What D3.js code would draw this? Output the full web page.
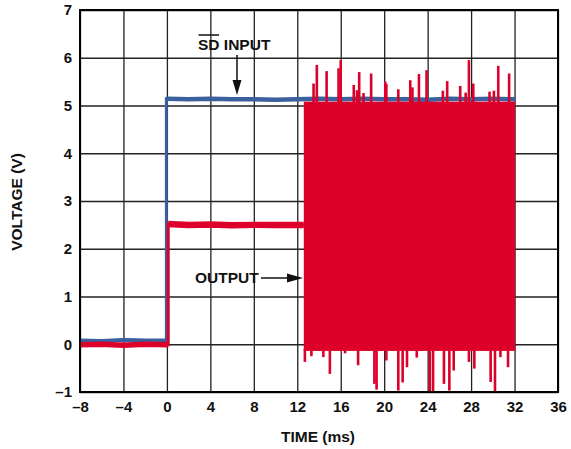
<!DOCTYPE html>
<html>
<head>
<meta charset="utf-8">
<script src="https://cdn.jsdelivr.net/npm/d3@7"></script>
<style>
  body { margin: 0; background: #fff; }
  text { font-family: "Liberation Sans", Arial, sans-serif; font-weight: bold; }
</style>
</head>
<body>
<div id="chart"></div>
<script>
// values
const xTicks = [-8, -4, 0, 4, 8, 12, 16, 20, 24, 28, 32, 36];
const yTicks = [-1, 0, 1, 2, 3, 4, 5, 6, 7];

// SD input trace
const inputTime = [-8, -6, -4, -2, -0.05, -0.05, 2, 4, 6, 8, 10, 12, 14, 16, 18, 20, 22, 24, 26, 28, 30, 32.06];
const inputVolt = [0.08, 0.07, 0.09, 0.08, 0.08, 5.14, 5.13, 5.14, 5.13, 5.13, 5.12, 5.13, 5.14, 5.13, 5.14, 5.13, 5.13, 5.12, 5.14, 5.13, 5.14, 5.13];

// output trace before switching starts
const outputTime = [-8, -6, -4, -2, 0.12, 0.12, 2, 4, 6, 8, 10, 12.6];
const outputVolt = [-0.01, 0.0, -0.02, 0.0, -0.01, 2.52, 2.5, 2.51, 2.49, 2.5, 2.5, 2.5];

// switching burst envelope
const burstTime = [12.6, 32.06];
const burstHigh = 5.08;
const burstLow = -0.14;

// spikes above the burst
const upSpikeTime = [13.5, 13.8, 14.7, 15.8, 16.0, 17.2, 17.5, 17.7, 18.1, 18.8, 20.1, 20.2, 21.3, 22.4, 22.6, 23.2, 23.9, 25.4, 25.8, 27.0, 27.5, 27.8, 28.2, 29.7, 30.1, 30.5, 31.5];
const upSpikeVolt = [5.46, 5.85, 5.72, 5.78, 5.95, 5.43, 5.32, 5.7, 5.26, 5.67, 5.5, 5.45, 5.34, 5.53, 5.38, 5.66, 5.74, 5.31, 5.51, 5.41, 5.27, 5.95, 5.46, 5.29, 5.31, 5.83, 5.67];

// spikes below the burst
const downSpikeTime = [12.7, 13.3, 14.4, 15.0, 16.4, 17.6, 19.1, 19.3, 20.2, 21.3, 21.7, 22.1, 23.0, 24.2, 24.5, 25.5, 26.0, 26.4, 27.8, 28.3, 29.8, 30.2, 30.7, 31.4];
const downSpikeVolt = [-0.37, -0.25, -0.27, -0.62, -0.19, -0.44, -0.83, -0.95, -0.34, -0.97, -0.8, -0.48, -0.28, -1.0, -1.0, -0.83, -0.97, -0.55, -0.37, -0.51, -0.79, -1.0, -0.27, -0.48];

const blue = "#3c5f9d";
const red = "#dc002b";

const margin = { top: 10, right: 13, bottom: 57, left: 80 };
const width = 571 - margin.left - margin.right;
const height = 449 - margin.top - margin.bottom;

const svg = d3.select("#chart")
  .append("svg")
  .attr("width", 571)
  .attr("height", 449);

const g = svg.append("g")
  .attr("transform", `translate(${margin.left},${margin.top})`);

const x = d3.scaleLinear().domain([-8, 36]).range([0, width]);
const y = d3.scaleLinear().domain([-1, 7]).range([height, 0]);

const fmt = d => d < 0 ? "\u2013" + Math.abs(d) : d;

// grid
g.append("g")
  .attr("transform", `translate(0,${height})`)
  .call(d3.axisBottom(x).tickValues(xTicks).tickSize(-height).tickFormat(""))
  .call(a => a.select(".domain").remove())
  .call(a => a.selectAll("line").attr("stroke", "#222").attr("stroke-width", 1.3));

g.append("g")
  .call(d3.axisLeft(y).tickValues(yTicks).tickSize(-width).tickFormat(""))
  .call(a => a.select(".domain").remove())
  .call(a => a.selectAll("line").attr("stroke", "#222").attr("stroke-width", 1.3));

// tick labels
g.append("g")
  .attr("transform", `translate(0,${height})`)
  .call(d3.axisBottom(x).tickValues(xTicks).tickSize(0).tickPadding(9).tickFormat(fmt))
  .call(a => a.select(".domain").remove())
  .call(a => a.selectAll("text").attr("font-size", 15).attr("fill", "#111")
    .style("font-family", "'Liberation Sans', Arial, sans-serif").style("font-weight", "bold"));

g.append("g")
  .call(d3.axisLeft(y).tickValues(yTicks).tickSize(0).tickPadding(8).tickFormat(fmt))
  .call(a => a.select(".domain").remove())
  .call(a => a.selectAll("text").attr("font-size", 15).attr("fill", "#111")
    .style("font-family", "'Liberation Sans', Arial, sans-serif").style("font-weight", "bold"));

// traces: thin full path for the step, thicker strokes on the flat parts
const line = d3.line().x(d => x(d[0])).y(d => y(d[1]));

function drawTrace(times, volts, color, thin, thick) {
  const pts = times.map((t, i) => [t, volts[i]]);
  g.append("path").datum(pts).attr("d", line)
    .attr("fill", "none").attr("stroke", color).attr("stroke-width", thin);
  const step = times.findIndex((t, i) => i > 0 && t === times[i - 1]);
  [pts.slice(0, step), pts.slice(step)].forEach((seg, k) => {
    g.append("path").datum(seg).attr("d", line)
      .attr("fill", "none").attr("stroke", color)
      .attr("stroke-width", thick[k]);
  });
}

drawTrace(inputTime, inputVolt, blue, 3, [4, 4.5]);
drawTrace(outputTime, outputVolt, red, 3, [5.5, 6.5]);

g.append("rect")
  .attr("x", x(burstTime[0]))
  .attr("width", x(burstTime[1]) - x(burstTime[0]))
  .attr("y", y(burstHigh))
  .attr("height", y(burstLow) - y(burstHigh))
  .attr("fill", red);

g.selectAll(".up")
  .data(upSpikeTime)
  .enter()
  .append("line")
  .attr("class", "up")
  .attr("x1", d => x(d))
  .attr("x2", d => x(d))
  .attr("y1", y(burstHigh - 0.05))
  .attr("y2", (d, i) => y(upSpikeVolt[i]))
  .attr("stroke", red)
  .attr("stroke-width", 2.6);

g.selectAll(".down")
  .data(downSpikeTime)
  .enter()
  .append("line")
  .attr("class", "down")
  .attr("x1", d => x(d))
  .attr("x2", d => x(d))
  .attr("y1", y(burstLow + 0.05))
  .attr("y2", (d, i) => y(downSpikeVolt[i]))
  .attr("stroke", red)
  .attr("stroke-width", 2.6);

// frame
g.append("rect")
  .attr("width", width)
  .attr("height", height)
  .attr("fill", "none")
  .attr("stroke", "#000")
  .attr("stroke-width", 2);

// annotations
const sd = g.append("text")
  .attr("x", 198 - margin.left)
  .attr("y", 50 - margin.top)
  .attr("font-size", 15.5)
  .attr("fill", "#111");
sd.append("tspan").attr("class", "sd").text("SD");
sd.append("tspan").text(" INPUT");
const sdLen = sd.select(".sd").node().getComputedTextLength();
g.append("line")
  .attr("x1", 198 - margin.left + 0.5)
  .attr("x2", 198 - margin.left + sdLen - 0.5)
  .attr("y1", 35 - margin.top)
  .attr("y2", 35 - margin.top)
  .attr("stroke", "#111")
  .attr("stroke-width", 1.5);

g.append("line")
  .attr("x1", 237 - margin.left).attr("x2", 237 - margin.left)
  .attr("y1", 55 - margin.top).attr("y2", 82 - margin.top)
  .attr("stroke", "#111").attr("stroke-width", 1.5);
g.append("path")
  .attr("d", `M${237 - margin.left - 4.5},${80 - margin.top} L${237 - margin.left + 4.5},${80 - margin.top} L${237 - margin.left},${95 - margin.top} Z`)
  .attr("fill", "#111");

g.append("text")
  .attr("x", 195 - margin.left)
  .attr("y", 283 - margin.top)
  .attr("font-size", 15.5)
  .attr("fill", "#111")
  .text("OUTPUT");

g.append("line")
  .attr("x1", 261 - margin.left).attr("x2", 290 - margin.left)
  .attr("y1", 278 - margin.top).attr("y2", 278 - margin.top)
  .attr("stroke", "#111").attr("stroke-width", 1.5);
g.append("path")
  .attr("d", `M${287 - margin.left},${273.5 - margin.top} L${287 - margin.left},${282.5 - margin.top} L${303 - margin.left},${278 - margin.top} Z`)
  .attr("fill", "#111");

// axis titles
svg.append("text")
  .attr("x", 318)
  .attr("y", 442)
  .attr("text-anchor", "middle")
  .attr("font-size", 15.5)
  .attr("fill", "#111")
  .text("TIME (ms)");

svg.append("text")
  .attr("transform", "translate(22,202) rotate(-90)")
  .attr("text-anchor", "middle")
  .attr("font-size", 15.5)
  .attr("fill", "#111")
  .text("VOLTAGE (V)");
</script>
</body>
</html>
